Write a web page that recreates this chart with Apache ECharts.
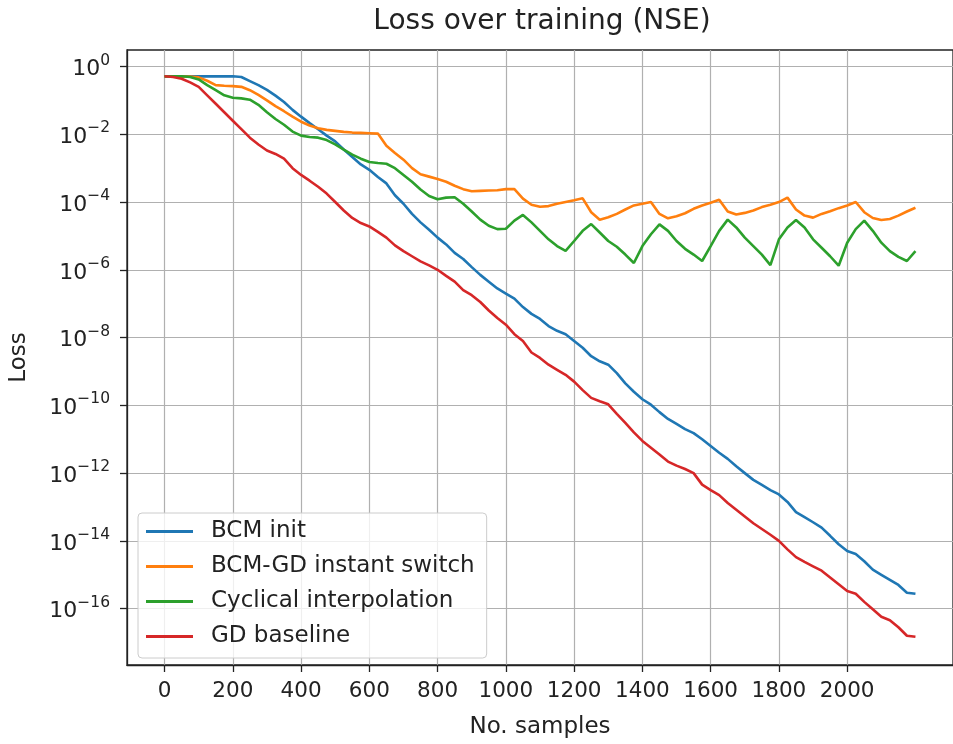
<!DOCTYPE html>
<html>
<head>
<meta charset="utf-8">
<title>Loss over training (NSE)</title>
<script src="https://cdn.jsdelivr.net/npm/echarts@6/dist/echarts.min.js"></script>
<style>
	html, body { margin: 0; padding: 0; background: #fff; }
	#myChart { width: 953px; height: 744px; }
</style>
</head>
<body>
<div id="myChart"></div>
<script type="text/javascript">
	// samples (x axis), one point every 25 samples
	var samples = [];
	for (var s = 0; s <= 2200; s += 25) samples.push(s);

	// loss values, stored as log10(loss)
	var bcmInit = [
		-0.29, -0.29, -0.29, -0.29, -0.29, -0.29, -0.29, -0.29, -0.29, -0.31,
		-0.43, -0.55, -0.69, -0.86, -1.05, -1.28, -1.48, -1.67, -1.85, -2.04,
		-2.21, -2.45, -2.67, -2.89, -3.05, -3.26, -3.45, -3.80, -4.05, -4.35,
		-4.60, -4.82, -5.05, -5.25, -5.50, -5.68, -5.92, -6.15, -6.35, -6.55,
		-6.70, -6.85, -7.10, -7.30, -7.45, -7.66, -7.80, -7.90, -8.10, -8.30,
		-8.55, -8.70, -8.80, -9.05, -9.35, -9.60, -9.82, -9.98, -10.20, -10.40,
		-10.55, -10.70, -10.82, -11.00, -11.20, -11.40, -11.58, -11.80, -12.00, -12.20,
		-12.35, -12.50, -12.63, -12.85, -13.15, -13.30, -13.45, -13.61, -13.85, -14.10,
		-14.30, -14.39, -14.60, -14.85, -15.00, -15.15, -15.30, -15.53, -15.56
	];
	var instantSwitch = [
		-0.29, -0.29, -0.30, -0.30, -0.32, -0.42, -0.55, -0.57, -0.58, -0.60,
		-0.70, -0.84, -1.00, -1.17, -1.32, -1.48, -1.63, -1.74, -1.82, -1.87,
		-1.90, -1.93, -1.95, -1.96, -1.97, -1.98, -2.34, -2.55, -2.75, -3.00,
		-3.18, -3.25, -3.32, -3.40, -3.52, -3.62, -3.68, -3.67, -3.66, -3.65,
		-3.62, -3.62, -3.90, -4.08, -4.14, -4.12, -4.05, -4.00, -3.95, -3.89,
		-4.30, -4.52, -4.45, -4.35, -4.22, -4.10, -4.05, -4.00, -4.35, -4.48,
		-4.42, -4.33, -4.20, -4.10, -4.02, -3.93, -4.28, -4.37, -4.32, -4.25,
		-4.15, -4.08, -4.00, -3.87, -4.22, -4.40, -4.46, -4.35, -4.27, -4.18,
		-4.10, -4.00, -4.30, -4.47, -4.53, -4.50, -4.40, -4.28, -4.17
	];
	var cyclical = [
		-0.29, -0.29, -0.29, -0.31, -0.38, -0.55, -0.70, -0.85, -0.92, -0.94,
		-0.98, -1.13, -1.35, -1.55, -1.72, -1.92, -2.04, -2.08, -2.10, -2.17,
		-2.30, -2.45, -2.60, -2.72, -2.82, -2.85, -2.87, -3.00, -3.20, -3.40,
		-3.63, -3.82, -3.92, -3.87, -3.86, -4.05, -4.28, -4.52, -4.70, -4.80,
		-4.79, -4.55, -4.38, -4.60, -4.85, -5.10, -5.30, -5.44, -5.15, -4.85,
		-4.65, -4.90, -5.15, -5.32, -5.55, -5.80, -5.30, -4.95, -4.66, -4.85,
		-5.15, -5.38, -5.55, -5.74, -5.30, -4.85, -4.52, -4.75, -5.05, -5.30,
		-5.55, -5.86, -5.10, -4.75, -4.53, -4.75, -5.10, -5.35, -5.60, -5.88,
		-5.20, -4.80, -4.55, -4.85, -5.20, -5.45, -5.62, -5.74, -5.45
	];
	var gdBaseline = [
		-0.29, -0.31, -0.36, -0.47, -0.60, -0.85, -1.10, -1.35, -1.60, -1.85,
		-2.10, -2.30, -2.48, -2.58, -2.72, -3.00, -3.20, -3.37, -3.55, -3.75,
		-4.00, -4.25, -4.47, -4.62, -4.72, -4.88, -5.05, -5.28, -5.45, -5.60,
		-5.75, -5.87, -6.00, -6.18, -6.35, -6.60, -6.75, -6.95, -7.20, -7.42,
		-7.62, -7.90, -8.10, -8.44, -8.60, -8.80, -8.95, -9.10, -9.30, -9.55,
		-9.78, -9.88, -9.97, -10.25, -10.52, -10.80, -11.05, -11.25, -11.45, -11.66,
		-11.78, -11.88, -12.00, -12.34, -12.50, -12.65, -12.88, -13.08, -13.28, -13.48,
		-13.65, -13.82, -14.00, -14.25, -14.48, -14.62, -14.75, -14.88, -15.08, -15.28,
		-15.48, -15.56, -15.80, -16.02, -16.24, -16.34, -16.55, -16.80, -16.83
	];

	var seriesNames = ['BCM init', 'BCM-GD instant switch', 'Cyclical interpolation', 'GD baseline'];
	var seriesColors = ['#1f77b4', '#ff7f0e', '#2ca02c', '#d62728'];
	var xTicks = [0, 200, 400, 600, 800, 1000, 1200, 1400, 1600, 1800, 2000];
	var yTicks = [-16, -14, -12, -10, -8, -6, -4, -2, 0];

	function pairs(values) {
		return samples.map(function (x, i) { return [x, values[i]]; });
	}

	var FONT = 'DejaVu Sans';
	var INK = '#222';
	var myChart = echarts.init(document.getElementById('myChart'), null, { renderer: 'canvas' });

	var option = {
		animation: false,
		backgroundColor: '#ffffff',
		textStyle: { fontFamily: FONT },
		title: {
			text: 'Loss over training (NSE)',
			left: 542,
			top: 8,
			padding: 0,
			textAlign: 'center',
			textStyle: { fontFamily: FONT, fontSize: 28, fontWeight: 'normal', color: INK }
		},
		legend: {
			orient: 'vertical',
			left: 138,
			top: 513,
			padding: [7, 12, 10, 8],
			itemGap: 12,
			itemWidth: 47,
			itemHeight: 3,
			icon: 'rect',
			backgroundColor: 'rgba(255,255,255,0.8)',
			borderColor: '#cccccc',
			borderWidth: 1,
			borderRadius: 4,
			data: seriesNames,
			textStyle: { fontFamily: FONT, fontSize: 23, color: INK, lineHeight: 23, padding: [0, 0, 0, 13] }
		},
		grid: {
			left: 126,
			top: 50,
			width: 833,
			height: 622,
			show: true,
			borderColor: INK,
			borderWidth: 1.3,
			containLabel: false
		},
		xAxis: {
			type: 'value',
			min: -110,
			max: 2310,
			name: 'No. samples',
			nameLocation: 'middle',
			nameGap: 51,
			nameTextStyle: { fontFamily: FONT, fontSize: 23, color: INK },
			axisLine: { show: true, onZero: false, lineStyle: { color: INK, width: 1.3 } },
			axisTick: { show: true, inside: false, length: 7, customValues: xTicks, lineStyle: { color: INK, width: 1.3 } },
			axisLabel: {
				customValues: xTicks,
				margin: 15,
				fontFamily: FONT,
				fontSize: 21.5,
				color: INK,
				formatter: function (v) { return String(v); }
			},
			splitLine: { show: true, lineStyle: { color: '#b0b0b0', width: 1.2 } }
		},
		yAxis: {
			type: 'value',
			min: -17.663,
			max: 0.487,
			name: 'Loss',
			nameLocation: 'middle',
			nameRotate: 90,
			nameGap: 96,
			nameTextStyle: { fontFamily: FONT, fontSize: 23, color: INK },
			axisLine: { show: true, onZero: false, lineStyle: { color: INK, width: 1.3 } },
			axisTick: { show: true, inside: false, length: 7, customValues: yTicks, lineStyle: { color: INK, width: 1.3 } },
			axisLabel: {
				customValues: yTicks,
				margin: 17,
				formatter: function (v) {
					var e = Math.round(v);
					return '{b|10}{s|' + (e < 0 ? '\u2212' + (-e) : e) + '}';
				},
				rich: {
					b: { fontFamily: FONT, fontSize: 22, lineHeight: 28, color: INK, verticalAlign: 'bottom' },
					s: { fontFamily: FONT, fontSize: 15.5, lineHeight: 15, color: INK, verticalAlign: 'top' }
				}
			},
			splitLine: { show: true, lineStyle: { color: '#b0b0b0', width: 1.2 } }
		},
		series: [
			{ name: seriesNames[0], type: 'line', data: pairs(bcmInit) },
			{ name: seriesNames[1], type: 'line', data: pairs(instantSwitch) },
			{ name: seriesNames[2], type: 'line', data: pairs(cyclical) },
			{ name: seriesNames[3], type: 'line', data: pairs(gdBaseline) }
		].map(function (s, i) {
			s.symbol = 'none';
			s.color = seriesColors[i];
			s.lineStyle = { color: seriesColors[i], width: 2.6 };
			s.itemStyle = { color: seriesColors[i] };
			return s;
		})
	};

	myChart.setOption(option);
</script>
</body>
</html>
